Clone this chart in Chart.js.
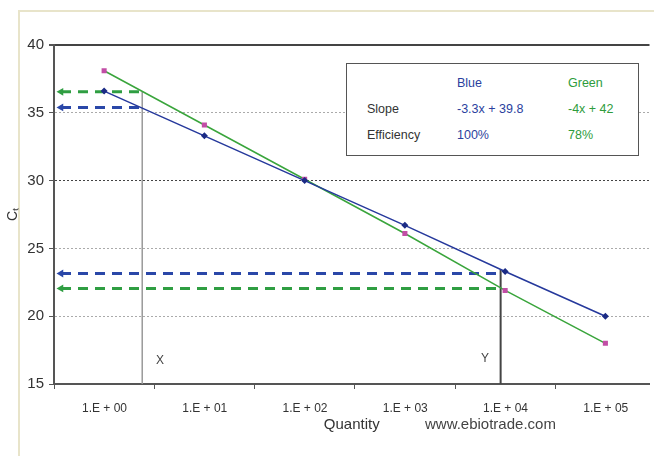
<!DOCTYPE html>
<html>
<head>
<meta charset="utf-8">
<script src="https://cdn.jsdelivr.net/npm/chart.js@4.4.0/dist/chart.umd.min.js"></script>
<style>
  html, body { margin: 0; padding: 0; background: #fff; }
  #wrap { position: relative; width: 654px; height: 456px; overflow: hidden; font-family: "Liberation Sans", Arial, sans-serif; color: #333; }
  #frame { position: absolute; left: 18px; top: 10px; width: 700px; height: 500px; border-left: 2px solid #e8e4ca; border-top: 2px solid #e8e4ca; }
  #myChart { position: absolute; left: 0; top: 0; }
  #box { position: absolute; left: 346px; top: 63px; width: 293px; height: 93px; box-sizing: border-box; border: 1px solid #555; background: #fff; font-size: 12.5px; }
  #box table { position: absolute; left: 20px; top: 6px; border-collapse: collapse; }
  #box td { padding: 0; height: 26px; vertical-align: middle; white-space: nowrap; }
  .b { color: #2b3f9e; }
  .g { color: #2e9c3c; }
  .mark { position: absolute; font-size: 12px; color: #444; }
  #site { position: absolute; left: 425px; top: 415px; font-size: 15px; color: #444; }
</style>
</head>
<body>
<div id="wrap">
  <div id="frame"></div>
  <canvas id="myChart" width="654" height="456"></canvas>
  <div id="box">
    <table>
      <tr><td style="width:90px"></td><td style="width:111px" class="b">Blue</td><td class="g">Green</td></tr>
      <tr><td>Slope</td><td class="b">-3.3x + 39.8</td><td class="g">-4x + 42</td></tr>
      <tr><td>Efficiency</td><td class="b">100%</td><td class="g">78%</td></tr>
    </table>
  </div>
  <span class="mark" style="left:156px; top:353px">X</span>
  <span class="mark" style="left:481px; top:351px">Y</span>
  <div id="site">www.ebiotrade.com</div>
</div>
<script>
'use strict';

// 軸ラベル・データ
const tickLabels = ['1.E + 00', '1.E + 01', '1.E + 02', '1.E + 03', '1.E + 04', '1.E + 05'];
const logQuantity = [0, 1, 2, 3, 4, 5];
const blueCt = [36.6, 33.3, 30.0, 26.7, 23.3, 20.0];
const greenCt = [38.1, 34.1, 30.1, 26.1, 21.9, 18.0];

// 読み取り線 (X, Y の位置と Ct)
const unknownX = 0.38;
const unknownY = 3.955;
const ctAtX = [35.4, 36.55];   // blue, green
const ctAtY = [23.15, 22.05];  // blue, green
const blueTopAtY = 23.45;
const arrowStart = -0.43;

const BLUE = '#26399c';
const GREEN = '#3aa53c';

(function () {
    function arrow(y, xEnd, color) {
        return {
            data: [{ x: arrowStart, y: y }, { x: xEnd, y: y }],
            borderColor: color,
            backgroundColor: color,
            borderWidth: 3,
            borderDash: [10, 7],
            pointStyle: 'triangle',
            rotation: 270,
            pointRadius: [4.5, 0],
            pointBorderWidth: 0
        };
    }

    function vline(x, yTop, color, width) {
        return {
            data: [{ x: x, y: 15 }, { x: x, y: yTop }],
            borderColor: color,
            borderWidth: width,
            pointRadius: 0
        };
    }

    const config = {
        type: 'line',
        data: {
            datasets: [
                {
                    data: logQuantity.map((q, i) => ({ x: q, y: blueCt[i] })),
                    borderColor: BLUE,
                    borderWidth: 1.5,
                    pointStyle: 'rectRot',
                    pointRadius: 3.5,
                    pointBackgroundColor: '#1b2b85',
                    pointBorderColor: '#1b2b85',
                    pointBorderWidth: 0
                },
                {
                    data: logQuantity.map((q, i) => ({ x: q, y: greenCt[i] })),
                    borderColor: GREEN,
                    borderWidth: 1.5,
                    pointStyle: 'rect',
                    pointRadius: 3.6,
                    pointBackgroundColor: '#c24ea6',
                    pointBorderColor: '#c24ea6',
                    pointBorderWidth: 0
                },
                vline(unknownX, ctAtX[1], '#999', 1.5),
                vline(unknownY, blueTopAtY, '#444', 2),
                arrow(ctAtX[0], unknownX, '#2a47a8'),
                arrow(ctAtX[1], unknownX, '#2f9e42'),
                arrow(ctAtY[0], unknownY, '#2a47a8'),
                arrow(ctAtY[1], unknownY, '#2f9e42')
            ]
        },
        options: {
            responsive: false,
            animation: false,
            devicePixelRatio: 1,
            layout: { padding: { top: 45, right: 0, bottom: 0, left: 0 } },
            elements: { line: { tension: 0 } },
            plugins: {
                legend: { display: false },
                tooltip: { enabled: false }
            },
            scales: {
                x: {
                    type: 'linear',
                    min: -0.5,
                    max: 5.44,
                    afterBuildTicks: s => {
                        s.ticks = tickLabels.map((t, i) => ({ value: i - 0.5 }));
                    },
                    afterFit: s => { s.height = 72; },
                    ticks: {
                        autoSkip: false,
                        maxRotation: 0,
                        labelOffset: 50.5,
                        padding: 12,
                        color: '#333',
                        font: { family: 'Liberation Sans', size: 12 },
                        callback: (v, i) => tickLabels[i]
                    },
                    grid: { drawOnChartArea: false, tickLength: 5, tickColor: '#555' },
                    border: { color: '#555', width: 2 },
                    title: {
                        display: true,
                        text: 'Quantity',
                        color: '#333',
                        font: { family: 'Liberation Sans', size: 15 },
                        padding: { top: 0, bottom: 22 }
                    }
                },
                y: {
                    min: 15,
                    max: 40,
                    afterFit: s => { s.width = 54; },
                    ticks: {
                        stepSize: 5,
                        padding: 5,
                        color: '#333',
                        font: { family: 'Liberation Sans', size: 15 }
                    },
                    grid: {
                        color: c => (c.tick.value === 40 || c.tick.value === 30) ? '#444' : '#aaa',
                        lineWidth: c => c.tick.value === 40 ? 2 : 1,
                        tickLength: 5,
                        tickColor: '#555'
                    },
                    border: {
                        color: '#555',
                        width: 2,
                        dash: c => (c.tick && c.tick.value === 40) ? [] : [2, 2]
                    },
                    title: {
                        display: true,
                        text: 'Cₜ',
                        color: '#333',
                        font: { family: 'Liberation Sans', size: 14 },
                        padding: { top: 5, bottom: 0 }
                    }
                }
            }
        }
    };

    new Chart(document.getElementById('myChart'), config);
})();
</script>
</body>
</html>
